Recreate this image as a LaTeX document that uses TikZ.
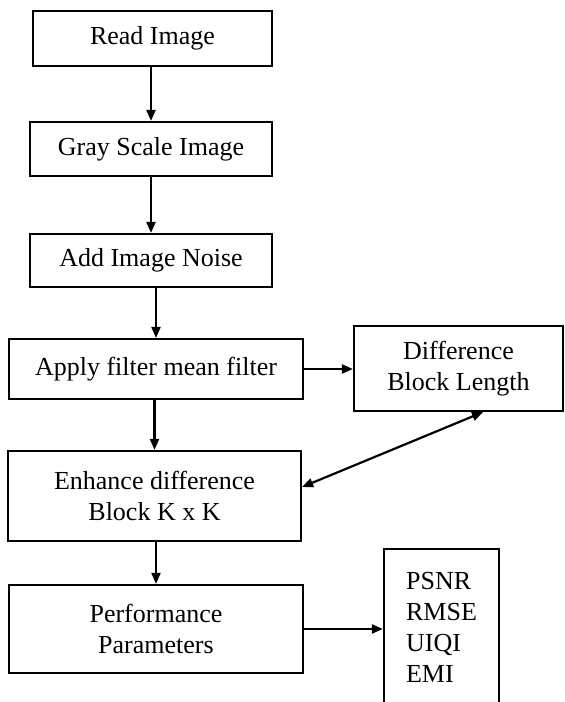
\documentclass[tikz,border=0pt]{standalone}
\usepackage{fontspec}
\setmainfont{Liberation Serif}
\usetikzlibrary{arrows.meta,calc}

\tikzset{
  stepbox/.style={draw, line width=2.2pt, rectangle, inner sep=0pt,
    align=center, font=\fontsize{26}{31}\selectfont},
  tip/.style={Triangle[length=11pt,width=9pt]},
  flow/.style={line width=2.2pt, -{Triangle[length=11pt,width=9pt]}},
  twoway/.style={line width=2.2pt, {Triangle[length=11pt,width=9pt]}-{Triangle[length=11pt,width=9pt]}}
}

\begin{document}
\begin{tikzpicture}[x=1pt, y=-1pt]
  \useasboundingbox (0,0) rectangle (565,702);
  \clip (0,0) rectangle (565,702);

  % processing steps
  \node[stepbox, minimum width=239pt, minimum height=55pt] (read)    at (152.5,38.5) {Read Image};
  \node[stepbox, minimum width=242pt, minimum height=54pt] (gray)    at (151,149)    {Gray Scale Image};
  \node[stepbox, minimum width=242pt, minimum height=53pt] (noise)   at (151,260.5)  {Add Image Noise};
  \node[stepbox, minimum width=294pt, minimum height=60pt] (apply)   at (156,369)    {Apply filter mean filter};
  \node[stepbox, minimum width=209pt, minimum height=85pt] (diff)    at (458.5,368.5) {Difference\\Block Length};
  \node[stepbox, minimum width=293pt, minimum height=90pt] (enhance) at (154.5,496)  {Enhance difference\\Block K x K};
  \node[stepbox, minimum width=294pt, minimum height=88pt] (perf)    at (156,629)    {Performance\\Parameters};

  % list of quality measures (box runs past the lower edge)
  \node[stepbox, minimum width=115pt, minimum height=162pt] (metrics) at (441.5,630)
    {\raisebox{7pt}{\begin{tabular}{@{}l@{}}PSNR\\RMSE\\UIQI\\EMI\end{tabular}}};

  % connectors
  \draw[flow] (read.south -| gray.north) -- (gray.north);
  \draw[flow] (gray.south) -- (noise.north);
  \draw[flow] (noise.south -| apply.north) -- (apply.north);
  \draw[flow] (apply.south -| enhance.north) -- (enhance.north);
  \draw[flow] (enhance.south -| perf.north) -- (perf.north);
  \draw[flow] (apply.east) -- (diff.west |- apply.east);
  \draw[twoway] ($(enhance.east)+(0,-9)$) -- ($(diff.south)+(24.5,0)$);
  \draw[flow] (perf.east) -- (metrics.west |- perf.east);
\end{tikzpicture}
\end{document}
